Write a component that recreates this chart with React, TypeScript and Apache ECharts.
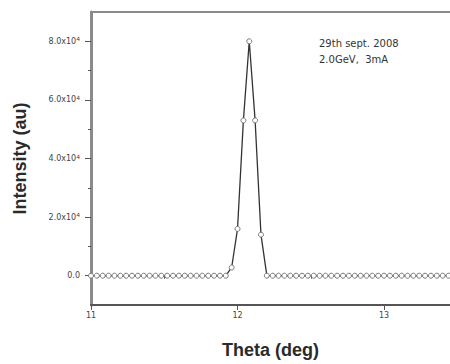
import React, { useEffect, useRef } from "react";
import * as echarts from "echarts";

const thetaDeg: number[] = [
  11.0, 11.04, 11.08, 11.12, 11.16, 11.2, 11.24, 11.28, 11.32, 11.36, 11.4, 11.44, 11.48, 11.52, 11.56, 11.6,
  11.64, 11.68, 11.72, 11.76, 11.8, 11.84, 11.88, 11.92, 11.96, 12.0, 12.04, 12.08, 12.12, 12.16, 12.2, 12.24,
  12.28, 12.32, 12.36, 12.4, 12.44, 12.48, 12.52, 12.56, 12.6, 12.64, 12.68, 12.72, 12.76, 12.8, 12.84, 12.88,
  12.92, 12.96, 13.0, 13.04, 13.08, 13.12, 13.16, 13.2, 13.24, 13.28, 13.32, 13.36, 13.4, 13.44,
];
const intensity: number[] = [
  0, 0, 0, 0, 0, 0, 0, 0, 0, 0, 0, 0, 0, 0, 0, 0,
  0, 0, 0, 0, 0, 0, 0, 0, 2800, 16000, 53000, 80000, 53000, 14000, 0, 0,
  0, 0, 0, 0, 0, 0, 0, 0, 0, 0, 0, 0, 0, 0, 0, 0,
  0, 0, 0, 0, 0, 0, 0, 0, 0, 0, 0, 0, 0, 0,
];
const yMajorTicks: number[] = [0, 20000, 40000, 60000, 80000];
const yMinorTicks: number[] = [10000, 30000, 50000, 70000];
const xMajorTicks: number[] = [11, 12, 13];
const xMinorTicks: number[] = [11.5, 12.5];
const annotationLines: string[] = ["29th sept. 2008", "2.0GeV,  3mA"];

export default function App() {
  const ref = useRef<HTMLDivElement>(null);
  useEffect(() => {
    if (!ref.current) return;
    const chart = echarts.init(ref.current, undefined, { renderer: "svg" });
    const axisGray = "#8a8a8a";
    const xRange = { min: 11, max: 13.45 };
    const yRange = { min: -10000, max: 90000 };
    chart.setOption({
      animation: false,
      backgroundColor: "#ffffff",
      grid: { left: 91, top: 12, right: 0, height: 300, containLabel: false },
      xAxis: [
        {
          type: "value",
          ...xRange,
          position: "bottom",
          name: "Theta (deg)",
          nameLocation: "middle",
          nameGap: 36,
          nameTextStyle: { fontFamily: "Liberation Sans", fontSize: 18, fontWeight: "bold", color: "#2a2a2a" },
          axisLine: { show: true, onZero: false, lineStyle: { color: "#555", width: 2 } },
          axisTick: { show: true, customValues: xMajorTicks, length: 5, lineStyle: { color: "#555", width: 1 } },
          axisLabel: {
            show: true,
            customValues: xMajorTicks,
            fontFamily: "DejaVu Sans",
            fontSize: 8,
            color: "#444",
            margin: 6,
            formatter: (v: number) => String(v),
          },
          splitLine: { show: false },
        },
        {
          type: "value",
          ...xRange,
          position: "bottom",
          axisLine: { show: false },
          axisTick: { show: true, customValues: xMinorTicks, length: 3, lineStyle: { color: "#555", width: 1 } },
          axisLabel: { show: false },
          splitLine: { show: false },
        },
        {
          type: "value",
          ...xRange,
          position: "top",
          axisLine: { show: true, onZero: false, lineStyle: { color: axisGray, width: 2 } },
          axisTick: { show: false },
          axisLabel: { show: false },
          splitLine: { show: false },
        },
      ],
      yAxis: [
        {
          type: "value",
          ...yRange,
          position: "left",
          name: "Intensity (au)",
          nameLocation: "middle",
          nameGap: 62,
          nameTextStyle: { fontFamily: "Liberation Sans", fontSize: 18, fontWeight: "bold", color: "#2a2a2a" },
          axisLine: { show: true, onZero: false, lineStyle: { color: axisGray, width: 3 } },
          axisTick: { show: true, customValues: yMajorTicks, length: 6, lineStyle: { color: "#555", width: 1 } },
          axisLabel: {
            show: true,
            customValues: yMajorTicks,
            margin: 11,
            fontFamily: "DejaVu Sans",
            fontSize: 8,
            color: "#444",
            formatter: (v: number) => (v === 0 ? "0.0" : `${(v / 10000).toFixed(1)}x10{sup|4}`),
            rich: {
              sup: { fontSize: 6, fontFamily: "DejaVu Sans", color: "#444", padding: [0, 0, 5, 0] },
            },
          },
          splitLine: { show: false },
        },
        {
          type: "value",
          ...yRange,
          position: "left",
          axisLine: { show: false },
          axisTick: { show: true, customValues: yMinorTicks, length: 3, lineStyle: { color: "#555", width: 1 } },
          axisLabel: { show: false },
          splitLine: { show: false },
        },
      ],
      graphic: [
        {
          type: "text",
          left: 319,
          top: 35,
          style: {
            text: annotationLines.join("\n"),
            fontFamily: "DejaVu Sans",
            fontSize: 10,
            lineHeight: 16,
            fill: "#333",
          },
        },
      ],
      series: [
        {
          type: "line",
          xAxisIndex: 0,
          yAxisIndex: 0,
          data: thetaDeg.map((x, i) => [x, intensity[i]]),
          symbol: "circle",
          symbolSize: 5,
          showAllSymbol: true,
          lineStyle: { color: "#333", width: 1.3 },
          itemStyle: { color: "#ffffff", borderColor: "#777", borderWidth: 1 },
          clip: false,
        },
      ],
    });
    return () => chart.dispose();
  }, []);
  return <div ref={ref} style={{ position: "fixed", left: 0, top: 0, width: 450, height: 364 }} />;
}
